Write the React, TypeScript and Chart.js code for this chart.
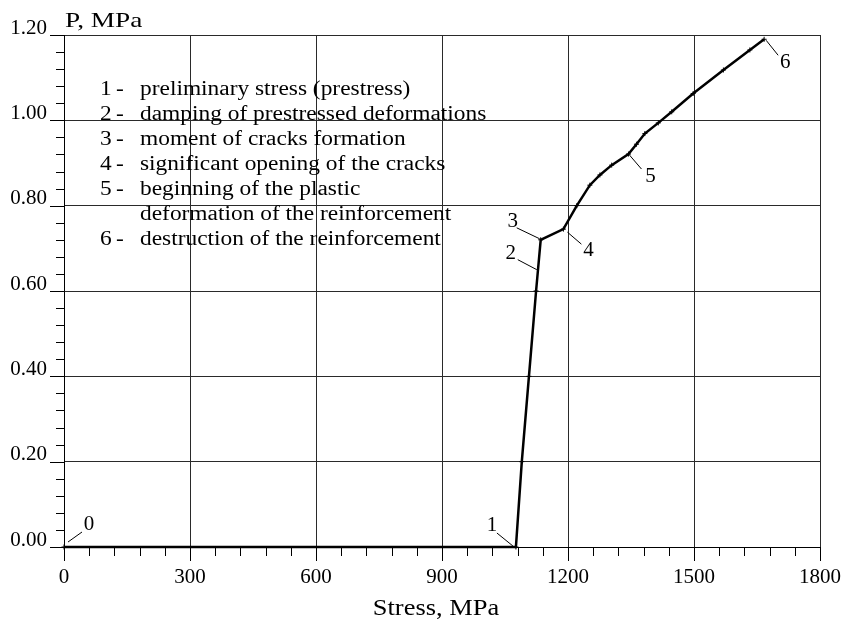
import React, { useEffect, useRef } from 'react';
import { Chart, registerables } from 'chart.js';

Chart.register(...registerables);

// ---- data ----
const stressMPa = [0, 1076, 1090, 1107, 1124, 1135, 1189, 1221, 1252, 1276, 1304, 1344, 1363, 1383, 1415, 1447, 1498, 1570, 1633, 1667];
const pressureMPa = [0, 0, 0.2, 0.4, 0.6, 0.72, 0.745, 0.8, 0.848, 0.872, 0.895, 0.921, 0.944, 0.969, 0.994, 1.02, 1.063, 1.118, 1.165, 1.19];

const xTickValues = [0, 300, 600, 900, 1200, 1500, 1800];
const yTickValues = [0, 0.2, 0.4, 0.6, 0.8, 1.0, 1.2];

const keyPointLabels = ['0', '1', '2', '3', '4', '5', '6'];
const keyPointStress = [0, 1076, 1128, 1135, 1189, 1344, 1667];
const keyPointP = [0, 0, 0.65, 0.72, 0.745, 0.921, 1.19];

const legendNumbers = ['1', '2', '3', '4', '5', '', '6'];
const legendTexts = [
  'preliminary stress (prestress)',
  'damping of prestressed deformations',
  'moment of cracks formation',
  'significant opening of the cracks',
  'beginning of the plastic',
  'deformation of the reinforcement',
  'destruction of the reinforcement',
];

const xAxisTitle = 'Stress, MPa';
const yAxisTitle = 'P, MPa';

// ---- layout / style (not data) ----
const FONT = "'Liberation Serif', 'Times New Roman', serif";
// leader start, leader end, label centre offsets (px) for each key point
const keyPointLayout = [
  { l0: [4, -5], l1: [18, -15], t: [25, -23] },
  { l0: [-3, -1], l1: [-19, -14], t: [-24, -22] },
  { l0: [-1, 0], l1: [-20, -10], t: [-27, -16] },
  { l0: [-1, -1], l1: [-24, -12], t: [-28, -18] },
  { l0: [4, 3], l1: [18, 15], t: [25, 21] },
  { l0: [1, 1], l1: [13, 15], t: [22, 22] },
  { l0: [2, 1], l1: [14, 16], t: [21, 23] },
];

function stretchedText(
  ctx: CanvasRenderingContext2D,
  text: string,
  x: number,
  y: number,
  size: number,
  sx: number,
  align: CanvasTextAlign
) {
  ctx.save();
  ctx.font = `${size}px ${FONT}`;
  ctx.fillStyle = '#000';
  ctx.textBaseline = 'alphabetic';
  ctx.textAlign = align;
  ctx.translate(x, y);
  ctx.scale(sx, 1);
  ctx.fillText(text, 0, 0);
  ctx.restore();
}

const decorPlugin = {
  id: 'decor',
  afterDraw(chart: any) {
    const ctx: CanvasRenderingContext2D = chart.ctx;
    const xs = chart.scales.x;
    const ys = chart.scales.y;
    const area = chart.chartArea;

    // axis tick marks (major + minor)
    ctx.save();
    ctx.strokeStyle = '#000';
    ctx.lineWidth = 1;
    ctx.beginPath();
    for (let i = 0; i <= 30; i++) {
      const v = i * 60;
      const px = Math.round(xs.getPixelForValue(v)) + 0.5;
      const len = i % 5 === 0 ? 14 : 9;
      ctx.moveTo(px, area.bottom);
      ctx.lineTo(px, area.bottom + len);
    }
    for (let i = 0; i <= 30; i++) {
      const v = i * 0.04;
      const py = Math.round(ys.getPixelForValue(v)) + 0.5;
      const len = i % 5 === 0 ? 14 : 8;
      ctx.moveTo(area.left - len, py);
      ctx.lineTo(area.left, py);
    }
    ctx.stroke();
    ctx.restore();

    // key point labels with leader lines
    ctx.save();
    ctx.strokeStyle = '#000';
    ctx.lineWidth = 1;
    ctx.font = `21px ${FONT}`;
    ctx.fillStyle = '#000';
    ctx.textAlign = 'center';
    ctx.textBaseline = 'middle';
    keyPointLabels.forEach((lab, i) => {
      const ax = xs.getPixelForValue(keyPointStress[i]);
      const ay = ys.getPixelForValue(keyPointP[i]);
      const L = keyPointLayout[i];
      ctx.beginPath();
      ctx.moveTo(ax + L.l0[0], ay + L.l0[1]);
      ctx.lineTo(ax + L.l1[0], ay + L.l1[1]);
      ctx.stroke();
      ctx.fillText(lab, ax + L.t[0], ay + L.t[1]);
    });
    ctx.restore();

    // legend text block
    const lx = area.left + 36;
    const ly = area.top + 60;
    legendTexts.forEach((t, i) => {
      const y = ly + i * 25;
      if (legendNumbers[i]) {
        stretchedText(ctx, legendNumbers[i], lx, y, 20, 1.17, 'left');
        stretchedText(ctx, '-', lx + 16, y, 20, 1.17, 'left');
      }
      stretchedText(ctx, t, lx + 40, y, 20, 1.17, 'left');
    });

    // axis titles
    stretchedText(ctx, yAxisTitle, area.left + 1, area.top - 8, 21, 1.3, 'left');
    stretchedText(ctx, xAxisTitle, 436, area.bottom + 68, 23, 1.15, 'center');
  },
};

export default function App() {
  const canvasRef = useRef<HTMLCanvasElement | null>(null);

  useEffect(() => {
    if (!canvasRef.current) return;
    const points = stressMPa.map((x, i) => ({ x, y: pressureMPa[i] }));
    const chart = new Chart(canvasRef.current, {
      type: 'line',
      data: {
        datasets: [
          {
            data: points,
            borderColor: '#000',
            borderWidth: 2.5,
            backgroundColor: '#000',
            pointStyle: 'cross',
            pointRadius: 2.5,
            pointBorderWidth: 1,
            pointBorderColor: '#000',
            tension: 0,
            fill: false,
            clip: false as any,
          },
        ],
      },
      options: {
        animation: false,
        responsive: false,
        maintainAspectRatio: false,
        layout: { padding: { top: 35, right: 26, left: 0, bottom: 0 } },
        plugins: {
          legend: { display: false },
          tooltip: { enabled: false },
          title: { display: false },
        },
        scales: {
          x: {
            type: 'linear',
            min: 0,
            max: 1800,
            afterBuildTicks: (s: any) => {
              s.ticks = xTickValues.map((v) => ({ value: v }));
            },
            afterFit: (s: any) => {
              s.height = 73;
              s.paddingLeft = 0;
              s.paddingRight = 0;
            },
            ticks: {
              color: '#000',
              font: { family: FONT, size: 21 },
              padding: 18,
              maxRotation: 0,
              autoSkip: false,
              callback: (v: any) => String(v),
            },
            grid: { color: '#2a2a2a', lineWidth: 1, drawTicks: false },
            border: { color: '#000', width: 1 },
          },
          y: {
            type: 'linear',
            min: 0,
            max: 1.2,
            afterBuildTicks: (s: any) => {
              s.ticks = yTickValues.map((v) => ({ value: v }));
            },
            afterFit: (s: any) => {
              s.width = 64;
              s.paddingTop = 0;
              s.paddingBottom = 0;
            },
            ticks: {
              color: '#000',
              font: { family: FONT, size: 21 },
              padding: 17,
              labelOffset: -7,
              autoSkip: false,
              callback: (v: any) => Number(v).toFixed(2),
            },
            grid: { color: '#2a2a2a', lineWidth: 1, drawTicks: false },
            border: { color: '#000', width: 1 },
          },
        },
      },
      plugins: [decorPlugin],
    });
    return () => chart.destroy();
  }, []);

  return (
    <div style={{ position: 'absolute', left: 0, top: 0, width: 846, height: 620, background: '#fff' }}>
      <canvas ref={canvasRef} width={846} height={620} style={{ width: 846, height: 620 }} />
    </div>
  );
}
